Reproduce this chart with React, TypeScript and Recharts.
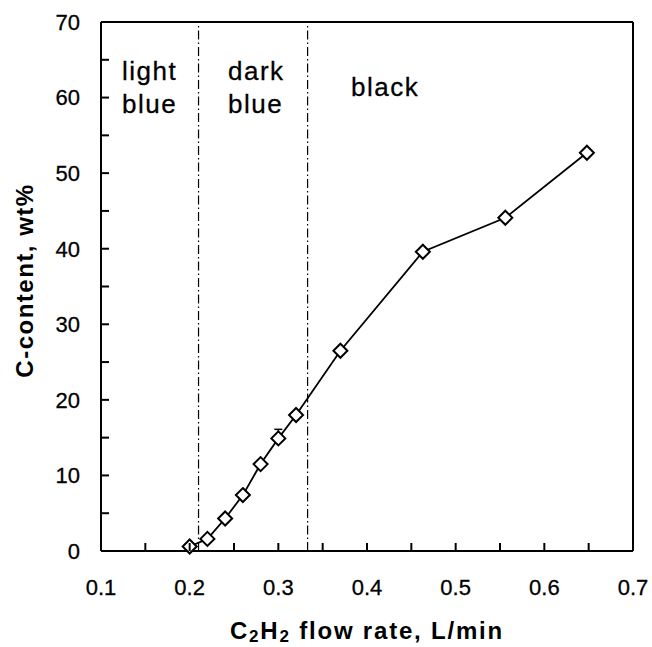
import { ComposedChart, Line, XAxis, YAxis, ReferenceLine, ErrorBar, Label } from 'recharts';

// C2H2 flow rate (L/min) vs carbon content (wt%)
const flowRate = [0.2, 0.22, 0.24, 0.26, 0.28, 0.3, 0.32, 0.37, 0.463, 0.556, 0.648];
const carbonContent = [0.6, 1.6, 4.3, 7.4, 11.5, 14.9, 18.0, 26.5, 39.6, 44.1, 52.7];
// [below, above] error, only one point has a visible bar
const carbonError: (number[] | null)[] = [null, null, null, null, null, [0.3, 1.2], null, null, null, null, null];

const xTicks = [0.1, 0.15, 0.2, 0.25, 0.3, 0.35, 0.4, 0.45, 0.5, 0.55, 0.6, 0.65, 0.7];
const yTicks = [0, 5, 10, 15, 20, 25, 30, 35, 40, 45, 50, 55, 60, 65, 70];
const colourBounds = [0.21, 0.333];

const FONT = '"Liberation Sans", Arial, Helvetica, sans-serif';

const data = flowRate.map((x, i) => ({ x, c: carbonContent[i], err: carbonError[i] }));

const isMajorX = (v: number) => Math.abs(v * 10 - Math.round(v * 10)) < 1e-6;

// inward tick marks, labels only on the major values
function XTick(props: any) {
  const { x, y, payload } = props;
  const v = payload.value;
  return (
    <g>
      <path d={`M${x},${y}V${y - 8}`} stroke="#000" strokeWidth={2} fill="none" />
      {isMajorX(v) && (
        <text x={x} y={y + 44} textAnchor="middle" fontSize={22} fontFamily={FONT} fill="#000" stroke="#000" strokeWidth={0.3}>
          {v.toFixed(1)}
        </text>
      )}
    </g>
  );
}

function YTick(props: any) {
  const { x, y, payload } = props;
  const v = payload.value;
  return (
    <g>
      <path d={`M${x},${y}H${x + 8}`} stroke="#000" strokeWidth={2} fill="none" />
      {v % 10 === 0 && (
        <text x={x - 21} y={y} dy="0.36em" textAnchor="end" fontSize={22} fontFamily={FONT} fill="#000" stroke="#000" strokeWidth={0.3}>
          {v}
        </text>
      )}
    </g>
  );
}

function Diamond(props: any) {
  const { cx, cy, index } = props;
  if (cx == null || cy == null) return null;
  const r = 7;
  return (
    <path
      key={index}
      d={`M${cx},${cy - r}L${cx + r},${cy}L${cx},${cy + r}L${cx - r},${cy}Z`}
      fill="#fff"
      stroke="#000"
      strokeWidth={2}
    />
  );
}

function XTitle({ viewBox }: any) {
  const { x, y, width } = viewBox;
  return (
    <text x={x + width / 2} y={y + 88} textAnchor="middle" fontSize={24} fontWeight="bold" fontFamily={FONT} letterSpacing={1.8} fill="#000">
      <tspan>C</tspan>
      <tspan fontSize={17} dy={3}>2</tspan>
      <tspan dy={-3}>H</tspan>
      <tspan fontSize={17} dy={3}>2</tspan>
      <tspan dy={-3}> flow rate, L/min</tspan>
    </text>
  );
}

function YTitle({ viewBox }: any) {
  const { y, height } = viewBox;
  const cx = 33;
  const cy = y + height / 2 - 6;
  return (
    <text x={cx} y={cy} textAnchor="middle" fontSize={24} fontWeight="bold" fontFamily={FONT} letterSpacing={1.5} fill="#000" transform={`rotate(-90, ${cx}, ${cy})`}>
      C-content, wt%
    </text>
  );
}

const regionLabels = [
  { lines: ['light', 'blue'], left: 122, top: 55 },
  { lines: ['dark', 'blue'], left: 228, top: 55 },
  { lines: ['black'], left: 351, top: 71 },
];

export default function App() {
  return (
    <div style={{ position: 'absolute', left: 0, top: 0, width: 652, height: 647, background: '#fff' }}>
      <ComposedChart width={652} height={647} data={data} margin={{ top: 22, right: 19, bottom: 0, left: 0 }}>
        <XAxis
          type="number"
          dataKey="x"
          domain={[0.1, 0.7]}
          ticks={xTicks}
          interval={0}
          height={96}
          tickSize={0}
          tickMargin={0}
          tickLine={false}
          tick={XTick}
          axisLine={{ stroke: '#000', strokeWidth: 2 }}
        >
          <Label content={<XTitle />} />
        </XAxis>
        <YAxis
          type="number"
          domain={[0, 70]}
          ticks={yTicks}
          interval={0}
          width={101}
          tickSize={0}
          tickMargin={0}
          tickLine={false}
          tick={YTick}
          axisLine={{ stroke: '#000', strokeWidth: 2 }}
        >
          <Label content={<YTitle />} />
        </YAxis>
        <ReferenceLine y={70} stroke="#000" strokeWidth={2} />
        <ReferenceLine x={0.7} stroke="#000" strokeWidth={2} />
        {colourBounds.map((b) => (
          <ReferenceLine key={b} x={b} stroke="#000" strokeWidth={1.2} strokeDasharray="9 3 1.5 3" />
        ))}
        <Line
          type="linear"
          dataKey="c"
          stroke="#000"
          strokeWidth={1.8}
          dot={<Diamond />}
          activeDot={false}
          isAnimationActive={false}
        >
          <ErrorBar dataKey="err" width={4} stroke="#000" strokeWidth={1.5} direction="y" />
        </Line>
      </ComposedChart>
      {regionLabels.map((r) => (
        <div
          key={r.lines.join('-')}
          style={{
            position: 'absolute',
            left: r.left,
            top: r.top,
            fontFamily: FONT,
            fontSize: 26,
            lineHeight: '33px',
            letterSpacing: 1.5,
            color: '#000',
            whiteSpace: 'nowrap',
            WebkitTextStroke: '0.3px #000',
          }}
        >
          {r.lines.map((l) => (
            <div key={l}>{l}</div>
          ))}
        </div>
      ))}
    </div>
  );
}
